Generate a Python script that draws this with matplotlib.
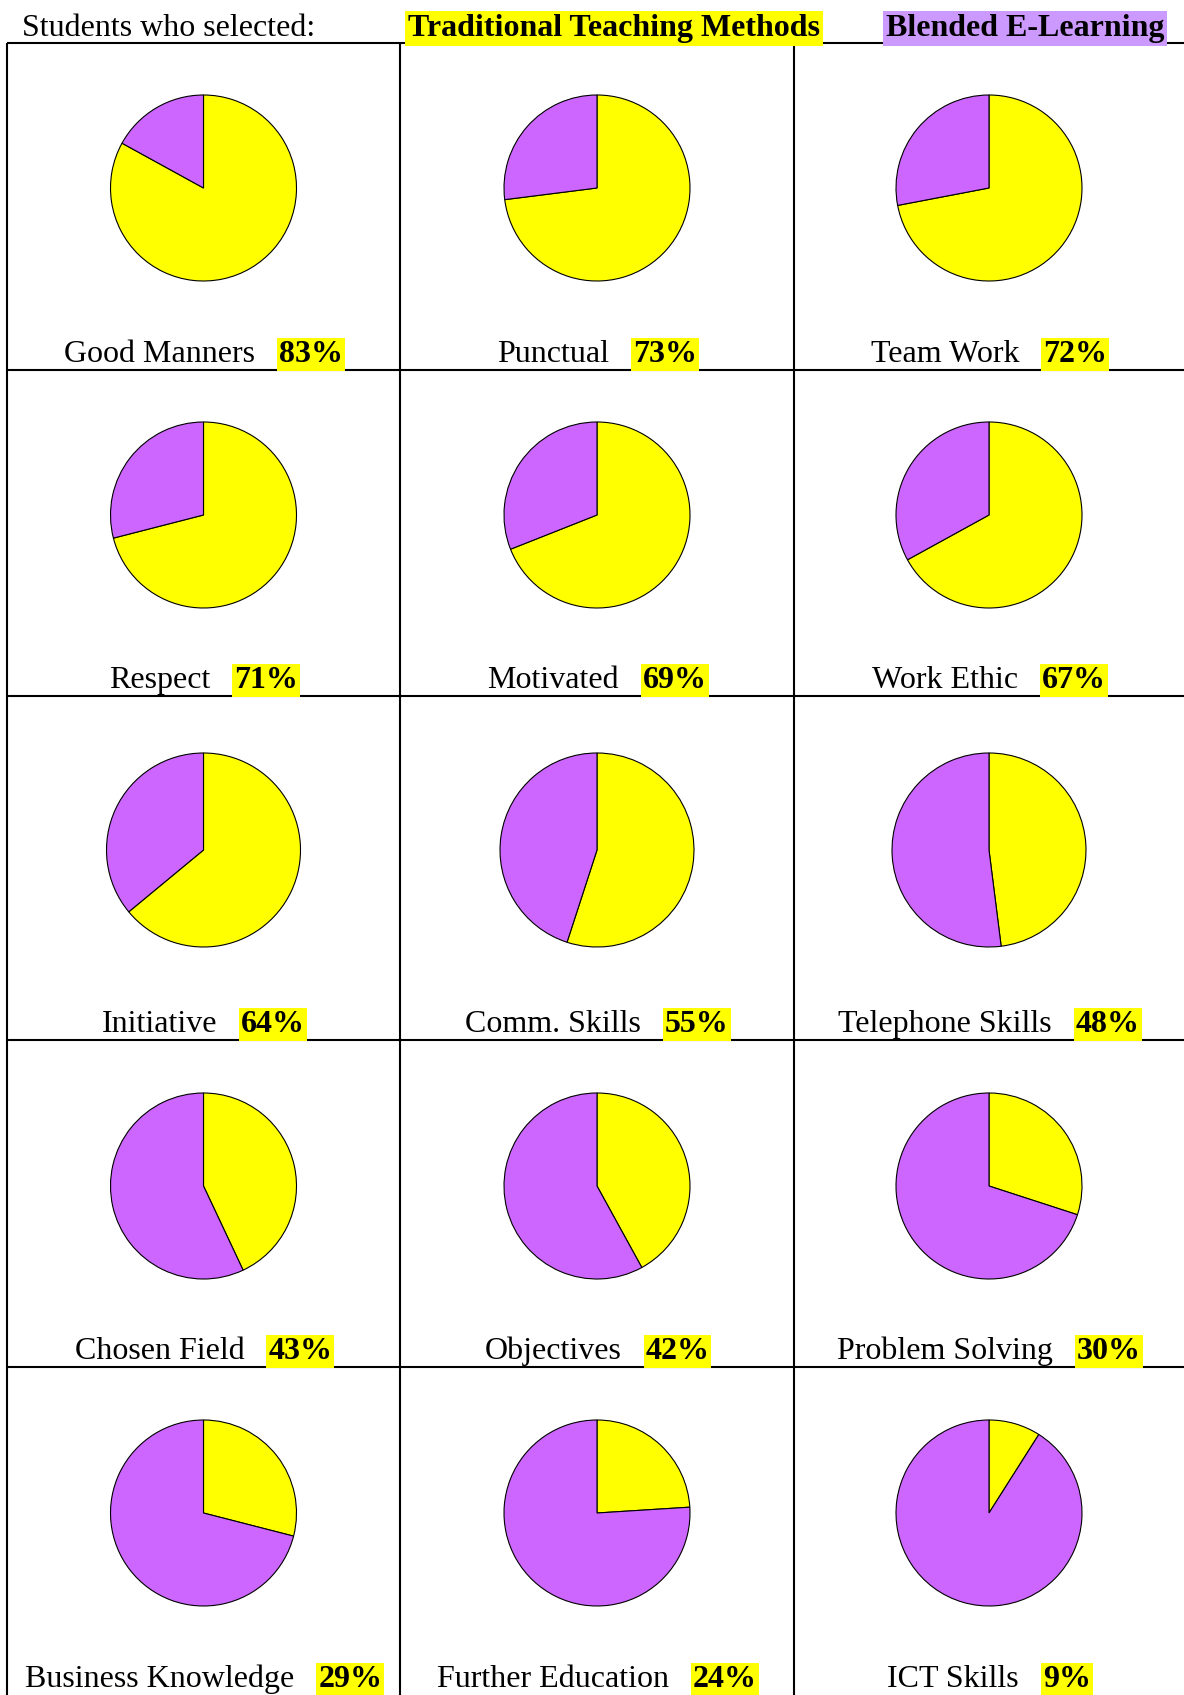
import matplotlib
matplotlib.use("Agg")
import matplotlib.pyplot as plt

# Times 风格字体
plt.rcParams["font.family"] = ["Liberation Serif", "DejaVu Serif"]

# 数据
labels = [
    "Good Manners", "Punctual", "Team Work",
    "Respect", "Motivated", "Work Ethic",
    "Initiative", "Comm. Skills", "Telephone Skills",
    "Chosen Field", "Objectives", "Problem Solving",
    "Business Knowledge", "Further Education", "ICT Skills",
]
traditional = [83, 73, 72, 71, 69, 67, 64, 55, 48, 43, 42, 30, 29, 24, 9]
blended = [17, 27, 28, 29, 31, 33, 36, 45, 52, 57, 58, 70, 71, 76, 91]

header_title = "Students who selected:"
legend_names = ["Traditional Teaching Methods", "Blended E-Learning"]
slice_colors = ["#FFFF00", "#CC66FF"]
legend_bg = ["#FFFF00", "#CC99FF"]

# 布局（像素）
W, H = 1184, 1695
col_edges = [7, 400, 794, 1184]
row_edges = [43, 370, 696, 1040, 1367, 1695]
pie_offset = [145, 145, 154, 146, 146]
pie_radius = [93, 93, 97, 93, 93]
legend_centers = [614, 1025]
fs = 23
gap = 24

fig = plt.figure(figsize=(W / 100, H / 100), dpi=100)
canvas = fig.add_axes([0, 0, 1, 1])
canvas.set_xlim(0, W)
canvas.set_ylim(H, 0)
canvas.axis("off")

# 表格线
for y in row_edges[:-1]:
    canvas.plot([col_edges[0], W], [y, y], color="black", lw=1.5, solid_capstyle="butt")
for x in col_edges[:-1]:
    canvas.plot([x, x], [row_edges[0], H], color="black", lw=1.5, solid_capstyle="butt")

# 标题行
canvas.text(22, 36, header_title, fontsize=fs, va="baseline", ha="left")
for name, bg, cx in zip(legend_names, legend_bg, legend_centers):
    canvas.text(cx, 36, name, fontsize=fs, fontweight="bold", va="baseline", ha="center",
                bbox=dict(boxstyle="square,pad=0.08", fc=bg, ec="none"))

# 饼图
for i, (lab, t, b) in enumerate(zip(labels, traditional, blended)):
    r, c = divmod(i, 3)
    cx = (col_edges[c] + col_edges[c + 1]) / 2
    cy = row_edges[r] + pie_offset[r]
    R = pie_radius[r] * 1.03
    ax = fig.add_axes([(cx - R) / W, 1 - (cy + R) / H, 2 * R / W, 2 * R / H])
    ax.pie([t, b], colors=slice_colors, startangle=90, counterclock=False, radius=1,
           wedgeprops=dict(edgecolor="black", linewidth=0.8))
    ax.set_xlim(-1.03, 1.03)
    ax.set_ylim(-1.03, 1.03)
    ax.axis("off")

# 标签与百分比（整体居中）
renderer = fig.canvas.get_renderer()
for i, (lab, t) in enumerate(zip(labels, traditional)):
    r, c = divmod(i, 3)
    cx = (col_edges[c] + col_edges[c + 1]) / 2
    base = row_edges[r + 1] - 8
    t1 = canvas.text(0, base, lab, fontsize=fs, va="baseline", ha="left")
    t2 = canvas.text(0, base, f"{t}%", fontsize=fs, fontweight="bold", va="baseline", ha="left",
                     bbox=dict(boxstyle="square,pad=0.06", fc="#FFFF00", ec="none"))
    w1 = t1.get_window_extent(renderer).width
    w2 = t2.get_window_extent(renderer).width
    start = cx - (w1 + gap + w2) / 2
    t1.set_x(start)
    t2.set_x(start + w1 + gap)

fig.savefig("out.png", dpi=100)
